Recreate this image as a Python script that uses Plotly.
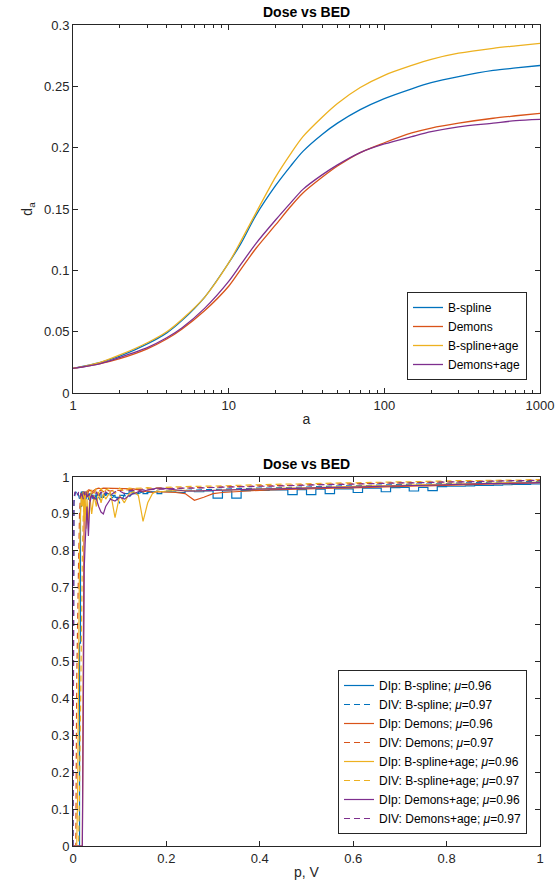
import plotly.graph_objects as go

# ---------------- Top panel data (Dose vs BED, log a) ----------------
a_vals = [1, 1.5, 2, 3, 4, 5, 7, 10, 12, 15, 20, 25, 30, 40, 50, 70, 100, 150, 200, 300, 500, 700, 1000]
bspline = [0.020, 0.025, 0.030, 0.040, 0.049, 0.059, 0.078, 0.106, 0.122, 0.145, 0.169, 0.185, 0.197, 0.211, 0.220, 0.231, 0.240, 0.248, 0.253, 0.258, 0.263, 0.265, 0.267]
demons = [0.020, 0.024, 0.028, 0.036, 0.044, 0.052, 0.067, 0.087, 0.101, 0.118, 0.137, 0.152, 0.163, 0.176, 0.185, 0.196, 0.204, 0.212, 0.216, 0.220, 0.224, 0.226, 0.228]
bspline_age = [0.020, 0.025, 0.031, 0.041, 0.050, 0.060, 0.078, 0.106, 0.124, 0.147, 0.176, 0.195, 0.209, 0.225, 0.236, 0.249, 0.259, 0.267, 0.272, 0.277, 0.281, 0.283, 0.285]
demons_age = [0.020, 0.024, 0.029, 0.037, 0.045, 0.053, 0.069, 0.091, 0.105, 0.122, 0.141, 0.155, 0.166, 0.178, 0.186, 0.196, 0.203, 0.209, 0.213, 0.217, 0.220, 0.222, 0.223]

# ---------------- Bottom panel data ----------------
p_vals = [0, 0.002, 0.004, 0.006, 0.008, 0.010, 0.012, 0.014, 0.016, 0.018,
          0.020, 0.022, 0.024, 0.026, 0.028, 0.030, 0.033, 0.036, 0.040, 0.045,
          0.050, 0.055, 0.060, 0.065, 0.070, 0.08, 0.09, 0.10, 0.11, 0.12,
          0.13, 0.14, 0.15, 0.16, 0.17, 0.18, 0.19, 0.20, 0.22, 0.24,
          0.26, 0.28, 0.30, 0.32, 0.34, 0.36, 0.38, 0.40, 0.42, 0.44,
          0.46, 0.48, 0.50, 0.52, 0.54, 0.56, 0.58, 0.60, 0.62, 0.64,
          0.66, 0.68, 0.70, 0.72, 0.74, 0.76, 0.78, 0.80, 0.82, 0.84,
          0.86, 0.88, 0.90, 0.92, 0.94, 0.96, 0.98, 1.00]

dip_bspline = [0, 0, 0, 0, 0, 0, 0, 0.55, 0.92, 0.95,
               0.96, 0.95, 0.94, 0.955, 0.96, 0.95, 0.94, 0.955, 0.95, 0.94,
               0.95, 0.955, 0.945, 0.95, 0.955, 0.95, 0.945, 0.95, 0.955, 0.96,
               0.955, 0.96, 0.955, 0.96, 0.96, 0.955, 0.96, 0.96, 0.958, 0.962,
               0.96, 0.962, 0.943, 0.962, 0.943, 0.963, 0.964, 0.964, 0.965, 0.965,
               0.952, 0.966, 0.952, 0.967, 0.955, 0.968, 0.968, 0.958, 0.97, 0.97,
               0.96, 0.971, 0.972, 0.962, 0.972, 0.963, 0.974, 0.975, 0.975, 0.976,
               0.977, 0.977, 0.978, 0.979, 0.98, 0.98, 0.981, 0.982]
div_bspline = [0, 0.93, 0.95, 0.96, 0.955, 0.96, 0.95, 0.94, 0.95, 0.96,
               0.955, 0.945, 0.96, 0.95, 0.94, 0.955, 0.945, 0.96, 0.95, 0.935,
               0.955, 0.945, 0.935, 0.95, 0.955, 0.94, 0.95, 0.93, 0.95, 0.945,
               0.96, 0.955, 0.96, 0.958, 0.96, 0.962, 0.96, 0.962, 0.963, 0.964,
               0.965, 0.966, 0.966, 0.967, 0.968, 0.968, 0.969, 0.97, 0.97, 0.971,
               0.972, 0.972, 0.973, 0.974, 0.974, 0.975, 0.976, 0.976, 0.977, 0.978,
               0.978, 0.979, 0.98, 0.98, 0.981, 0.981, 0.982, 0.983, 0.983, 0.984,
               0.985, 0.985, 0.986, 0.986, 0.987, 0.987, 0.988, 0.988]
dip_demons = [0, 0, 0, 0, 0, 0, 0, 0, 0, 0,
              0, 0.5, 0.93, 0.96, 0.955, 0.95, 0.96, 0.965, 0.96, 0.965,
              0.968, 0.97, 0.968, 0.97, 0.97, 0.968, 0.97, 0.97, 0.968, 0.97,
              0.968, 0.965, 0.96, 0.962, 0.958, 0.96, 0.96, 0.958, 0.958, 0.955,
              0.937, 0.945, 0.955, 0.958, 0.96, 0.962, 0.963, 0.964, 0.965, 0.966,
              0.966, 0.967, 0.968, 0.968, 0.969, 0.97, 0.97, 0.971, 0.972, 0.972,
              0.973, 0.974, 0.974, 0.975, 0.976, 0.976, 0.977, 0.978, 0.978, 0.979,
              0.98, 0.98, 0.981, 0.982, 0.982, 0.983, 0.984, 0.985]
div_demons = [0, 0, 0, 0, 0.45, 0.70, 0.77, 0.90, 0.95, 0.96,
              0.955, 0.96, 0.95, 0.96, 0.955, 0.96, 0.965, 0.96, 0.955, 0.96,
              0.965, 0.96, 0.965, 0.96, 0.965, 0.962, 0.965, 0.963, 0.966, 0.965,
              0.966, 0.967, 0.966, 0.968, 0.967, 0.968, 0.969, 0.968, 0.97, 0.97,
              0.971, 0.972, 0.972, 0.973, 0.974, 0.974, 0.975, 0.976, 0.976, 0.977,
              0.978, 0.978, 0.979, 0.98, 0.98, 0.981, 0.981, 0.982, 0.982, 0.983,
              0.983, 0.984, 0.984, 0.985, 0.985, 0.986, 0.986, 0.987, 0.987, 0.988,
              0.988, 0.989, 0.989, 0.99, 0.99, 0.99, 0.991, 0.991]
dip_bspline_age = [0, 0, 0, 0, 0, 0.15, 0.55, 0.80, 0.90, 0.95,
                   0.92, 0.96, 0.88, 0.95, 0.86, 0.94, 0.87, 0.95, 0.90, 0.95,
                   0.92, 0.96, 0.93, 0.955, 0.94, 0.96, 0.89, 0.95, 0.93, 0.955,
                   0.96, 0.95, 0.88, 0.93, 0.955, 0.962, 0.96, 0.962, 0.963, 0.964,
                   0.962, 0.963, 0.964, 0.965, 0.966, 0.966, 0.967, 0.968, 0.968, 0.969,
                   0.97, 0.97, 0.971, 0.972, 0.972, 0.973, 0.974, 0.974, 0.975, 0.976,
                   0.976, 0.977, 0.978, 0.978, 0.979, 0.98, 0.98, 0.981, 0.981, 0.982,
                   0.982, 0.983, 0.984, 0.984, 0.985, 0.985, 0.986, 0.986]
div_bspline_age = [0, 0, 0, 0, 0, 0, 0, 0.15, 0.39, 0.60,
                   0.78, 0.90, 0.95, 0.96, 0.94, 0.965, 0.95, 0.94, 0.965, 0.955,
                   0.97, 0.95, 0.97, 0.955, 0.965, 0.97, 0.955, 0.97, 0.96, 0.97,
                   0.969, 0.97, 0.97, 0.971, 0.97, 0.971, 0.972, 0.972, 0.973, 0.974,
                   0.974, 0.975, 0.976, 0.976, 0.977, 0.978, 0.978, 0.979, 0.98, 0.98,
                   0.981, 0.981, 0.982, 0.982, 0.983, 0.983, 0.984, 0.984, 0.985, 0.985,
                   0.986, 0.986, 0.987, 0.987, 0.988, 0.988, 0.989, 0.989, 0.99, 0.99,
                   0.99, 0.991, 0.991, 0.992, 0.992, 0.992, 0.993, 0.993]
dip_demons_age = [0, 0, 0, 0, 0, 0, 0, 0, 0, 0,
                  0, 0.35, 0.75, 0.82, 0.86, 0.92, 0.84, 0.93, 0.95, 0.945,
                  0.94, 0.92, 0.905, 0.90, 0.92, 0.94, 0.935, 0.945, 0.94, 0.95,
                  0.955, 0.96, 0.962, 0.965, 0.968, 0.97, 0.97, 0.968, 0.965, 0.962,
                  0.962, 0.963, 0.964, 0.965, 0.966, 0.966, 0.967, 0.967, 0.968, 0.968,
                  0.969, 0.97, 0.97, 0.971, 0.971, 0.972, 0.972, 0.973, 0.974, 0.974,
                  0.975, 0.975, 0.976, 0.977, 0.977, 0.978, 0.979, 0.979, 0.98, 0.98,
                  0.981, 0.982, 0.982, 0.983, 0.983, 0.984, 0.985, 0.985]
div_demons_age = [0, 0.94, 0.96, 0.955, 0.96, 0.95, 0.96, 0.955, 0.945, 0.96,
                  0.95, 0.94, 0.96, 0.95, 0.96, 0.94, 0.955, 0.935, 0.955, 0.94,
                  0.96, 0.945, 0.96, 0.95, 0.96, 0.95, 0.96, 0.962, 0.955, 0.963,
                  0.964, 0.965, 0.965, 0.966, 0.966, 0.967, 0.967, 0.968, 0.969, 0.97,
                  0.97, 0.971, 0.972, 0.972, 0.973, 0.973, 0.974, 0.975, 0.975, 0.976,
                  0.977, 0.977, 0.978, 0.978, 0.979, 0.98, 0.98, 0.981, 0.981, 0.982,
                  0.982, 0.983, 0.984, 0.984, 0.985, 0.985, 0.986, 0.986, 0.987, 0.987,
                  0.988, 0.988, 0.989, 0.989, 0.99, 0.99, 0.99, 0.991]

top_names = ["B-spline", "Demons", "B-spline+age", "Demons+age"]
colors = ["#0072BD", "#D95319", "#EDB120", "#7E2F8E"]

W, H = 556, 892
FONT = "Liberation Sans, Arial, Helvetica, sans-serif"
AX = "#262626"
DASH = "6px,4px"

fig = go.Figure()

for name, vals, col in zip(top_names, [bspline, demons, bspline_age, demons_age], colors):
    fig.add_trace(go.Scatter(x=a_vals, y=vals, mode="lines", name=name,
                             line=dict(color=col, width=1.3, shape="spline", smoothing=0.8),
                             xaxis="x", yaxis="y", legend="legend"))

bottom_series = [
    ("DIp: B-spline; <i>μ</i>=0.96", dip_bspline, colors[0], "solid", "hv"),
    ("DIV: B-spline; <i>μ</i>=0.97", div_bspline, colors[0], DASH, "linear"),
    ("DIp: Demons; <i>μ</i>=0.96", dip_demons, colors[1], "solid", "linear"),
    ("DIV: Demons; <i>μ</i>=0.97", div_demons, colors[1], DASH, "linear"),
    ("DIp: B-spline+age; <i>μ</i>=0.96", dip_bspline_age, colors[2], "solid", "linear"),
    ("DIV: B-spline+age; <i>μ</i>=0.97", div_bspline_age, colors[2], DASH, "linear"),
    ("DIp: Demons+age; <i>μ</i>=0.96", dip_demons_age, colors[3], "solid", "linear"),
    ("DIV: Demons+age; <i>μ</i>=0.97", div_demons_age, colors[3], DASH, "linear"),
]
for name, vals, col, dash, shape in bottom_series:
    assert len(vals) == len(p_vals), (name, len(vals))
    fig.add_trace(go.Scatter(x=p_vals, y=vals, mode="lines", name=name,
                             line=dict(color=col, width=1.2, dash=dash, shape=shape),
                             xaxis="x2", yaxis="y2", legend="legend2"))

# plot areas in pixels
L, R = 73, 540
T1, B1 = 25, 393
T2, B2 = 477, 846


def fx(px):
    return px / W


def fy(py):
    return (H - py) / H


axis_common = dict(showline=True, linecolor=AX, linewidth=1, mirror="ticks",
                   ticks="inside", ticklen=5, tickcolor=AX, tickwidth=1,
                   showgrid=False, zeroline=False, automargin=False,
                   tickfont=dict(family=FONT, size=13, color=AX))

minor_log = [m * 10 ** e for e in range(0, 3) for m in range(2, 10)]
title_font = dict(family=FONT, size=14, color=AX)
legend_font = dict(family=FONT, size=12, color="#000000")

fig.update_layout(
    width=W, height=H,
    margin=dict(l=0, r=0, t=0, b=0, autoexpand=False),
    paper_bgcolor="white", plot_bgcolor="white",
    font=dict(family=FONT, size=13, color=AX),
    xaxis=dict(axis_common, type="log", domain=[fx(L), fx(R)], anchor="y",
               range=[0, 3], tickvals=[1, 10, 100, 1000], ticktext=["1", "10", "100", "1000"],
               minor=dict(ticks="inside", ticklen=3, tickcolor=AX, tickvals=minor_log, showgrid=False),
               title=dict(text="a", font=title_font, standoff=2)),
    yaxis=dict(axis_common, domain=[fy(B1), fy(T1)], anchor="x", range=[0, 0.3],
               tickvals=[0, 0.05, 0.1, 0.15, 0.2, 0.25, 0.3],
               ticktext=["0", "0.05", "0.1", "0.15", "0.2", "0.25", "0.3"],
               title=dict(text="d<sub>a</sub>", font=title_font, standoff=8)),
    xaxis2=dict(axis_common, domain=[fx(L), fx(R)], anchor="y2", range=[0, 1],
                tickvals=[0, 0.2, 0.4, 0.6, 0.8, 1], ticktext=["0", "0.2", "0.4", "0.6", "0.8", "1"],
                title=dict(text="p, V", font=title_font, standoff=2)),
    yaxis2=dict(axis_common, domain=[fy(B2), fy(T2)], anchor="x2", range=[0, 1],
                tickvals=[i / 10 for i in range(11)],
                ticktext=["0", "0.1", "0.2", "0.3", "0.4", "0.5", "0.6", "0.7", "0.8", "0.9", "1"]),
    legend=dict(x=fx(527), y=fy(380), xanchor="right", yanchor="bottom",
                bgcolor="white", bordercolor=AX, borderwidth=1, font=legend_font,
                itemwidth=30, tracegroupgap=0),
    legend2=dict(x=fx(527), y=fy(834), xanchor="right", yanchor="bottom",
                 bgcolor="white", bordercolor=AX, borderwidth=1, font=legend_font,
                 itemwidth=30, tracegroupgap=0),
    showlegend=True,
    annotations=[
        dict(text="<b>Dose vs BED</b>", x=(fx(L) + fx(R)) / 2, y=fy(T1 - 3), xref="paper", yref="paper",
             xanchor="center", yanchor="bottom", showarrow=False,
             font=dict(family=FONT, size=14, color="#000000")),
        dict(text="<b>Dose vs BED</b>", x=(fx(L) + fx(R)) / 2, y=fy(T2 - 3), xref="paper", yref="paper",
             xanchor="center", yanchor="bottom", showarrow=False,
             font=dict(family=FONT, size=14, color="#000000")),
    ],
)

fig.write_html("out.html", config={"displayModeBar": False},
               post_script="document.body.style.margin='0';document.body.style.overflow='hidden';")
